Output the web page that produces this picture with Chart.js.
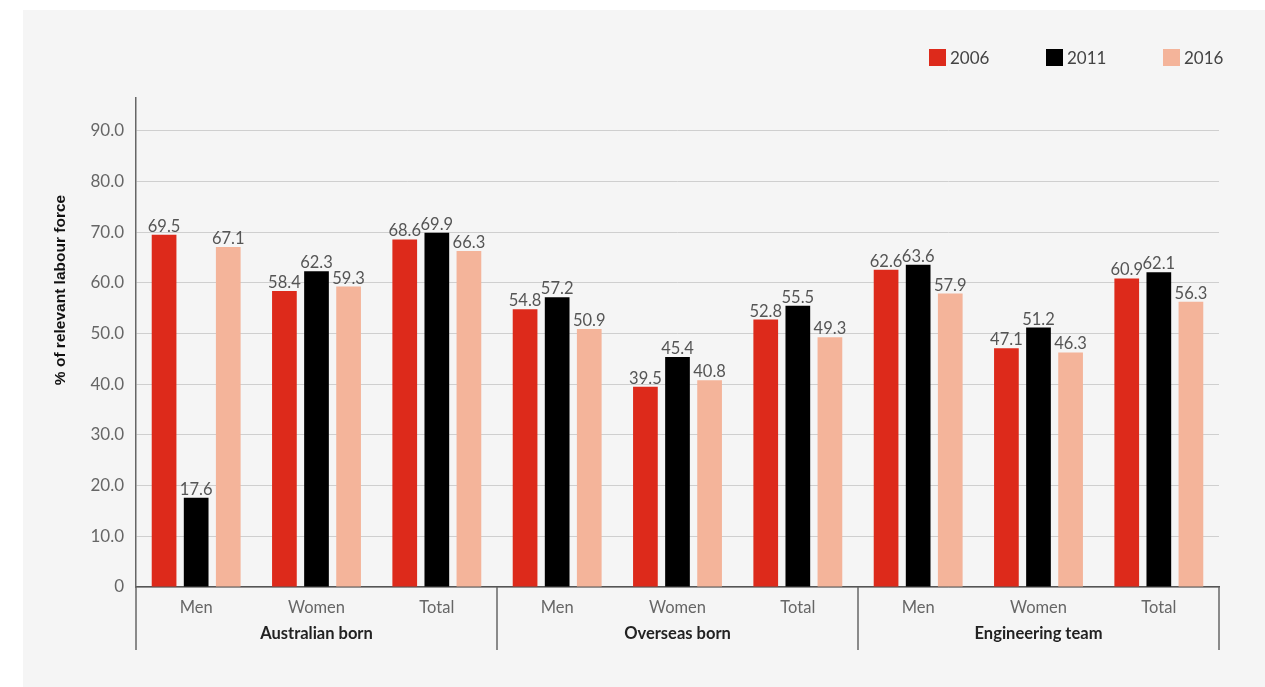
<!DOCTYPE html>
<html>
<head>
  <title>Labour force participation</title>
  <script src="https://cdn.jsdelivr.net/npm/chart.js"></script>
  <style>
    html, body {
      margin: 0;
      padding: 0;
      background: #fff;
      width: 1265px;
      height: 687px;
      overflow: hidden;
      font-family: Lato, sans-serif;
    }
    #card {
      position: absolute;
      left: 23px;
      top: 10px;
      right: 0;
      bottom: 0;
      background: #f5f5f5;
    }
    #wrap {
      position: absolute;
      left: 0;
      top: 0;
      width: 1265px;
      height: 687px;
    }
    #legend {
      position: absolute;
      top: 47px;
      left: 929px;
      display: flex;
      font-size: 17px;
      color: #444;
    }
    #legend .item {
      display: flex;
      align-items: center;
      width: 117px;
    }
    #legend .box {
      width: 17px;
      height: 17px;
      margin-right: 4px;
    }
  </style>
</head>
<body>
  <div id="card"></div>
  <div id="wrap"><canvas id="chart" width="1265" height="687"></canvas></div>
  <div id="legend"></div>

  <script>
    const groups = ['Australian born', 'Overseas born', 'Engineering team'];
    const categories = ['Men', 'Women', 'Total', 'Men', 'Women', 'Total', 'Men', 'Women', 'Total'];
    const years = ['2006', '2011', '2016'];
    const values2006 = [69.5, 58.4, 68.6, 54.8, 39.5, 52.8, 62.6, 47.1, 60.9];
    const values2011 = [17.6, 62.3, 69.9, 57.2, 45.4, 55.5, 63.6, 51.2, 62.1];
    const values2016 = [67.1, 59.3, 66.3, 50.9, 40.8, 49.3, 57.9, 46.3, 56.3];
    const yTitle = '% of relevant labour force';
    const colors = ['#dd2a1b', '#000000', '#f4b49a'];

    // legend (html)
    const legendEl = document.getElementById('legend');
    years.forEach((y, i) => {
      const item = document.createElement('div');
      item.className = 'item';
      item.innerHTML = '<span class="box" style="background:' + colors[i] + '"></span><span>' + y + '</span>';
      legendEl.appendChild(item);
    });

    // value labels above bars
    const valueLabels = {
      id: 'valueLabels',
      afterDatasetsDraw(chart) {
        const c = chart.ctx;
        c.save();
        c.font = '16.5px Lato';
        c.fillStyle = '#555';
        c.textAlign = 'center';
        c.textBaseline = 'bottom';
        chart.data.datasets.forEach((ds, i) => {
          chart.getDatasetMeta(i).data.forEach((bar, j) => {
            c.fillText(ds.data[j].toFixed(1), bar.x, bar.y);
          });
        });
        c.restore();
      }
    };

    // group labels, separators, y title
    const groupAxis = {
      id: 'groupAxis',
      afterDraw(chart) {
        const c = chart.ctx;
        const area = chart.chartArea;
        const per = categories.length / groups.length;
        const step = (area.right - area.left) / categories.length;
        c.save();
        c.strokeStyle = '#666';
        c.lineWidth = 1.5;
        for (let g = 0; g <= groups.length; g++) {
          const px = Math.round(area.left + g * per * step);
          c.beginPath();
          c.moveTo(px, area.bottom);
          c.lineTo(px, area.bottom + 63);
          c.stroke();
        }
        c.font = 'bold 16.5px Lato';
        c.fillStyle = '#222';
        c.textAlign = 'center';
        c.textBaseline = 'middle';
        groups.forEach((g, i) => {
          const cx = area.left + (i * per + per / 2) * step;
          c.fillText(g, cx, area.bottom + 47);
        });
        // y axis title, sits a bit above the middle like the original
        c.translate(61, 290);
        c.rotate(-Math.PI / 2);
        c.font = 'bold 15.5px "Liberation Sans"';
        c.fillStyle = '#111';
        c.fillText(yTitle, 0, 0);
        c.restore();
      }
    };

    new Chart(document.getElementById('chart'), {
      type: 'bar',
      data: {
        labels: categories,
        datasets: years.map((y, i) => ({
          label: y,
          data: [values2006, values2011, values2016][i],
          backgroundColor: colors[i],
          categoryPercentage: 0.8,
          barPercentage: 0.77
        }))
      },
      options: {
        responsive: false,
        animation: false,
        layout: { padding: { left: 40, right: 46, top: 98, bottom: 10 } },
        plugins: {
          legend: { display: false },
          tooltip: { enabled: false }
        },
        scales: {
          x: {
            grid: { display: false, drawTicks: false },
            border: { color: '#555', width: 1.5 },
            ticks: { color: '#666', font: { family: 'Lato', size: 16.5 }, padding: 11, autoSkip: false, maxRotation: 0 },
            afterFit(s) { s.height = 90; }
          },
          y: {
            min: 0,
            max: 96.5,
            grid: { color: '#cfcfcf', drawTicks: false },
            border: { color: '#666', width: 1.5 },
            afterBuildTicks(s) { s.ticks = s.ticks.filter(t => t.value <= 90); },
            ticks: {
              stepSize: 10,
              padding: 12,
              color: '#666',
              font: { family: 'Lato', size: 17 },
              callback: v => v === 0 ? '0' : v.toFixed(1)
            },
            afterFit(s) { s.width = 96; }
          }
        }
      },
      plugins: [valueLabels, groupAxis]
    });
  </script>
</body>
</html>
